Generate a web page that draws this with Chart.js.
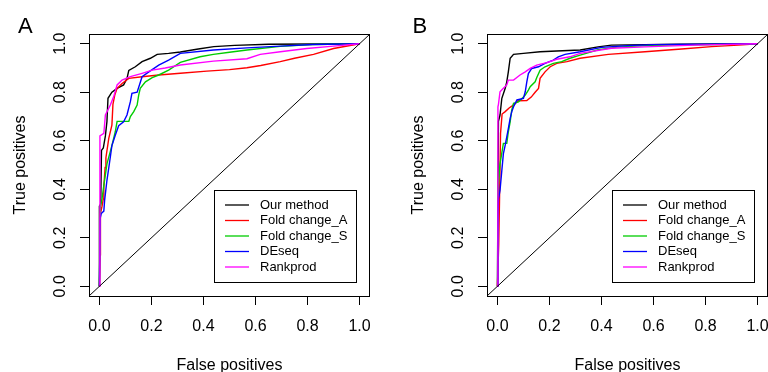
<!DOCTYPE html>
<html>
<head>
<meta charset="utf-8">
<script src="https://cdn.jsdelivr.net/npm/chart.js@4.4.1/dist/chart.umd.min.js"></script>
<style>
  html, body { margin: 0; padding: 0; background: #fff; }
  #wrap { position: relative; width: 768px; height: 372px; overflow: hidden; }
  canvas { position: absolute; top: 0; }
</style>
</head>
<body>
<div id="wrap">
  <canvas id="panelA" width="384" height="372" style="left:0"></canvas>
  <canvas id="panelB" width="384" height="372" style="left:384px"></canvas>
</div>
<script>
// ---- data ----
const methods = ['Our method', 'Fold change_A', 'Fold change_S', 'DEseq', 'Rankprod'];
const methodColors = ['#000000', '#FF0000', '#00CD00', '#0000FF', '#FF00FF'];
const tickValues = [0, 0.2, 0.4, 0.6, 0.8, 1.0];
const axisMin = -0.04, axisMax = 1.04;
const diagonal = [axisMin, axisMax];

// panel A
const fprA_ours = [0, 0, 0.005, 0.008, 0.015, 0.023, 0.029, 0.033, 0.048, 0.068, 0.093, 0.106, 0.113, 0.138, 0.164, 0.196, 0.222, 0.266, 0.311, 0.38, 0.44, 0.52, 0.65, 1];
const tprA_ours = [0, 0.33, 0.34, 0.56, 0.57, 0.62, 0.68, 0.775, 0.80, 0.816, 0.83, 0.857, 0.89, 0.905, 0.926, 0.94, 0.956, 0.96, 0.966, 0.978, 0.988, 0.993, 0.998, 1];
const fprA_fcA = [0, 0.003, 0.004, 0.01, 0.015, 0.017, 0.022, 0.025, 0.036, 0.048, 0.052, 0.059, 0.068, 0.087, 0.113, 0.164, 0.228, 0.311, 0.413, 0.5, 0.567, 0.62, 0.695, 0.75, 0.823, 0.9, 1];
const tprA_fcA = [0, 0.13, 0.30, 0.33, 0.36, 0.41, 0.49, 0.53, 0.61, 0.664, 0.75, 0.788, 0.816, 0.836, 0.857, 0.864, 0.871, 0.878, 0.887, 0.893, 0.901, 0.91, 0.926, 0.94, 0.956, 0.98, 1];
const fprA_fcS = [0, 0.004, 0.01, 0.017, 0.029, 0.048, 0.061, 0.068, 0.113, 0.119, 0.132, 0.145, 0.151, 0.157, 0.177, 0.203, 0.228, 0.266, 0.311, 0.387, 0.438, 0.5, 0.567, 0.695, 0.82, 1];
const tprA_fcS = [0, 0.33, 0.36, 0.416, 0.505, 0.58, 0.637, 0.68, 0.68, 0.70, 0.72, 0.747, 0.788, 0.816, 0.843, 0.86, 0.871, 0.891, 0.923, 0.946, 0.956, 0.965, 0.974, 0.989, 0.997, 1];
const fprA_deseq = [0, 0.003, 0.007, 0.017, 0.02, 0.029, 0.042, 0.048, 0.061, 0.074, 0.093, 0.106, 0.119, 0.125, 0.145, 0.164, 0.19, 0.228, 0.266, 0.311, 0.438, 0.567, 0.695, 0.82, 1];
const tprA_deseq = [0, 0.28, 0.30, 0.31, 0.354, 0.437, 0.533, 0.58, 0.623, 0.662, 0.678, 0.706, 0.761, 0.795, 0.80, 0.864, 0.884, 0.912, 0.932, 0.96, 0.974, 0.983, 0.99, 0.997, 1];
const fprA_rank = [0, 0.002, 0.017, 0.023, 0.042, 0.055, 0.068, 0.087, 0.119, 0.164, 0.203, 0.253, 0.311, 0.438, 0.567, 0.618, 0.695, 0.797, 0.9, 1];
const tprA_rank = [0, 0.62, 0.63, 0.706, 0.747, 0.782, 0.83, 0.85, 0.864, 0.878, 0.891, 0.90, 0.912, 0.928, 0.938, 0.956, 0.967, 0.98, 0.99, 1];

// panel B
const fprB_ours = [0, 0.004, 0.010, 0.017, 0.03, 0.036, 0.042, 0.049, 0.062, 0.10, 0.164, 0.228, 0.318, 0.387, 0.438, 0.695, 1];
const tprB_ours = [0, 0.68, 0.706, 0.775, 0.816, 0.843, 0.884, 0.94, 0.956, 0.96, 0.967, 0.97, 0.974, 0.987, 0.994, 0.998, 1];
const fprB_fcA = [0, 0.005, 0.008, 0.012, 0.018, 0.03, 0.045, 0.065, 0.08, 0.113, 0.13, 0.145, 0.158, 0.164, 0.183, 0.203, 0.228, 0.267, 0.318, 0.426, 0.567, 0.708, 0.823, 0.926, 1];
const tprB_fcA = [0, 0.17, 0.35, 0.63, 0.71, 0.72, 0.735, 0.75, 0.765, 0.766, 0.78, 0.80, 0.816, 0.857, 0.884, 0.905, 0.919, 0.926, 0.94, 0.956, 0.967, 0.978, 0.988, 0.994, 1];
const fprB_fcS = [0, 0.002, 0.01, 0.023, 0.036, 0.042, 0.049, 0.055, 0.062, 0.081, 0.094, 0.107, 0.119, 0.126, 0.145, 0.151, 0.164, 0.183, 0.215, 0.247, 0.279, 0.318, 0.387, 0.46, 0.59, 0.85, 1];
const tprB_fcS = [0, 0.40, 0.505, 0.589, 0.589, 0.637, 0.678, 0.726, 0.754, 0.76, 0.774, 0.788, 0.809, 0.823, 0.843, 0.86, 0.891, 0.905, 0.919, 0.926, 0.94, 0.953, 0.975, 0.986, 0.993, 0.997, 1];
const fprB_deseq = [0, 0.002, 0.004, 0.01, 0.017, 0.023, 0.03, 0.042, 0.049, 0.055, 0.062, 0.075, 0.10, 0.107, 0.113, 0.119, 0.132, 0.158, 0.183, 0.215, 0.234, 0.26, 0.318, 0.40, 0.5, 0.6, 1];
const tprB_deseq = [0, 0.30, 0.36, 0.395, 0.478, 0.547, 0.582, 0.65, 0.692, 0.719, 0.74, 0.768, 0.774, 0.802, 0.843, 0.877, 0.898, 0.905, 0.919, 0.932, 0.946, 0.956, 0.967, 0.985, 0.992, 0.996, 1];
const fprB_rank = [0, 0.002, 0.004, 0.01, 0.023, 0.036, 0.042, 0.062, 0.087, 0.107, 0.126, 0.151, 0.19, 0.228, 0.279, 0.318, 0.438, 0.567, 0.759, 1];
const tprB_rank = [0, 0.74, 0.75, 0.802, 0.816, 0.83, 0.85, 0.85, 0.871, 0.884, 0.898, 0.912, 0.922, 0.936, 0.946, 0.96, 0.981, 0.987, 0.994, 1];

const FONT = '"Liberation Sans", Arial, Helvetica, sans-serif';
Chart.defaults.font.family = FONT;
Chart.defaults.color = '#000';

// box, rotated y labels, legend box and panel letter, R style
const rDecor = {
  id: 'rDecor',
  afterDraw(chart, args, opts) {
    const { ctx, chartArea: a, scales: { y } } = chart;
    ctx.save();
    ctx.strokeStyle = '#000';
    ctx.lineWidth = 1;
    ctx.strokeRect(Math.round(a.left) + 0.5, Math.round(a.top) + 0.5,
      Math.round(a.right - a.left) - 1, Math.round(a.bottom - a.top));

    ctx.fillStyle = '#000';
    ctx.font = '16px ' + FONT;
    ctx.textAlign = 'center';
    ctx.textBaseline = 'alphabetic';
    y.ticks.forEach(t => {
      ctx.save();
      ctx.translate(a.left - 24, y.getPixelForValue(t.value));
      ctx.rotate(-Math.PI / 2);
      ctx.fillText(t.value.toFixed(1), 0, 0);
      ctx.restore();
    });

    // legend
    const lw = 142, lh = 92;
    const lx = Math.round(a.right - 14 - lw), ly = Math.round(a.bottom - 14 - lh);
    ctx.strokeStyle = '#000';
    ctx.strokeRect(lx + 0.5, ly + 0.5, lw, lh);
    ctx.font = '13px ' + FONT;
    ctx.textAlign = 'left';
    ctx.textBaseline = 'middle';
    chart.data.datasets.filter(d => d.inLegend).forEach((d, i) => {
      const yy = ly + 15 + i * 15.5;
      ctx.strokeStyle = d.borderColor;
      ctx.lineWidth = 1.3;
      ctx.beginPath();
      ctx.moveTo(lx + 11, yy);
      ctx.lineTo(lx + 35, yy);
      ctx.stroke();
      ctx.fillText(d.label, lx + 46, yy);
    });

    ctx.font = '22px ' + FONT;
    ctx.textBaseline = 'alphabetic';
    ctx.fillText(opts.letter, opts.letterX, 33);
    ctx.restore();
  }
};

function makePanel(id, letter, letterX, yAxisWidth, rightPad, fprs, tprs) {
  const datasets = methods.map((m, i) => ({
    label: m,
    inLegend: true,
    data: fprs[i].map((v, j) => ({ x: v, y: tprs[i][j] })),
    borderColor: methodColors[i],
    borderWidth: 1.4,
    showLine: true,
    pointRadius: 0,
    order: methods.length - i
  }));
  datasets.push({
    label: 'diagonal',
    data: diagonal.map(v => ({ x: v, y: v })),
    borderColor: '#000',
    borderWidth: 1,
    showLine: true,
    pointRadius: 0,
    order: 0
  });

  const gridOpts = { display: true, drawOnChartArea: false, drawTicks: true, tickLength: 9, color: '#000', lineWidth: 1 };

  return new Chart(document.getElementById(id), {
    type: 'scatter',
    data: { datasets },
    options: {
      responsive: false,
      animation: false,
      events: [],
      layout: { padding: { left: 0, top: 34, right: rightPad, bottom: 0 } },
      plugins: {
        legend: { display: false },
        tooltip: { enabled: false },
        rDecor: { letter, letterX }
      },
      scales: {
        x: {
          type: 'linear',
          min: axisMin,
          max: axisMax,
          afterBuildTicks: s => { s.ticks = tickValues.map(v => ({ value: v })); },
          afterFit: s => { s.height = 76; s.paddingLeft = 0; s.paddingRight = 0; },
          grid: gridOpts,
          border: { display: false },
          ticks: { padding: 12, color: '#000', font: { size: 16 }, maxRotation: 0, autoSkip: false, callback: v => v.toFixed(1) },
          title: { display: true, text: 'False positives', color: '#000', font: { size: 16 }, padding: { top: 0, bottom: -3 } }
        },
        y: {
          type: 'linear',
          min: axisMin,
          max: axisMax,
          afterBuildTicks: s => { s.ticks = tickValues.map(v => ({ value: v })); },
          afterFit: s => { s.width = yAxisWidth; s.paddingTop = 0; s.paddingBottom = 0; },
          grid: gridOpts,
          border: { display: false },
          ticks: { display: false },
          title: { display: true, text: 'True positives', color: '#000', font: { size: 16 }, padding: { top: yAxisWidth - 68.5 - 9.6, bottom: 0 } }
        }
      }
    },
    plugins: [rDecor]
  });
}

makePanel('panelA', 'A', 18, 89, 14,
  [fprA_ours, fprA_fcA, fprA_fcS, fprA_deseq, fprA_rank],
  [tprA_ours, tprA_fcA, tprA_fcS, tprA_deseq, tprA_rank]);
makePanel('panelB', 'B', 28.5, 103, 0,
  [fprB_ours, fprB_fcA, fprB_fcS, fprB_deseq, fprB_rank],
  [tprB_ours, tprB_fcA, tprB_fcS, tprB_deseq, tprB_rank]);
</script>
</body>
</html>
